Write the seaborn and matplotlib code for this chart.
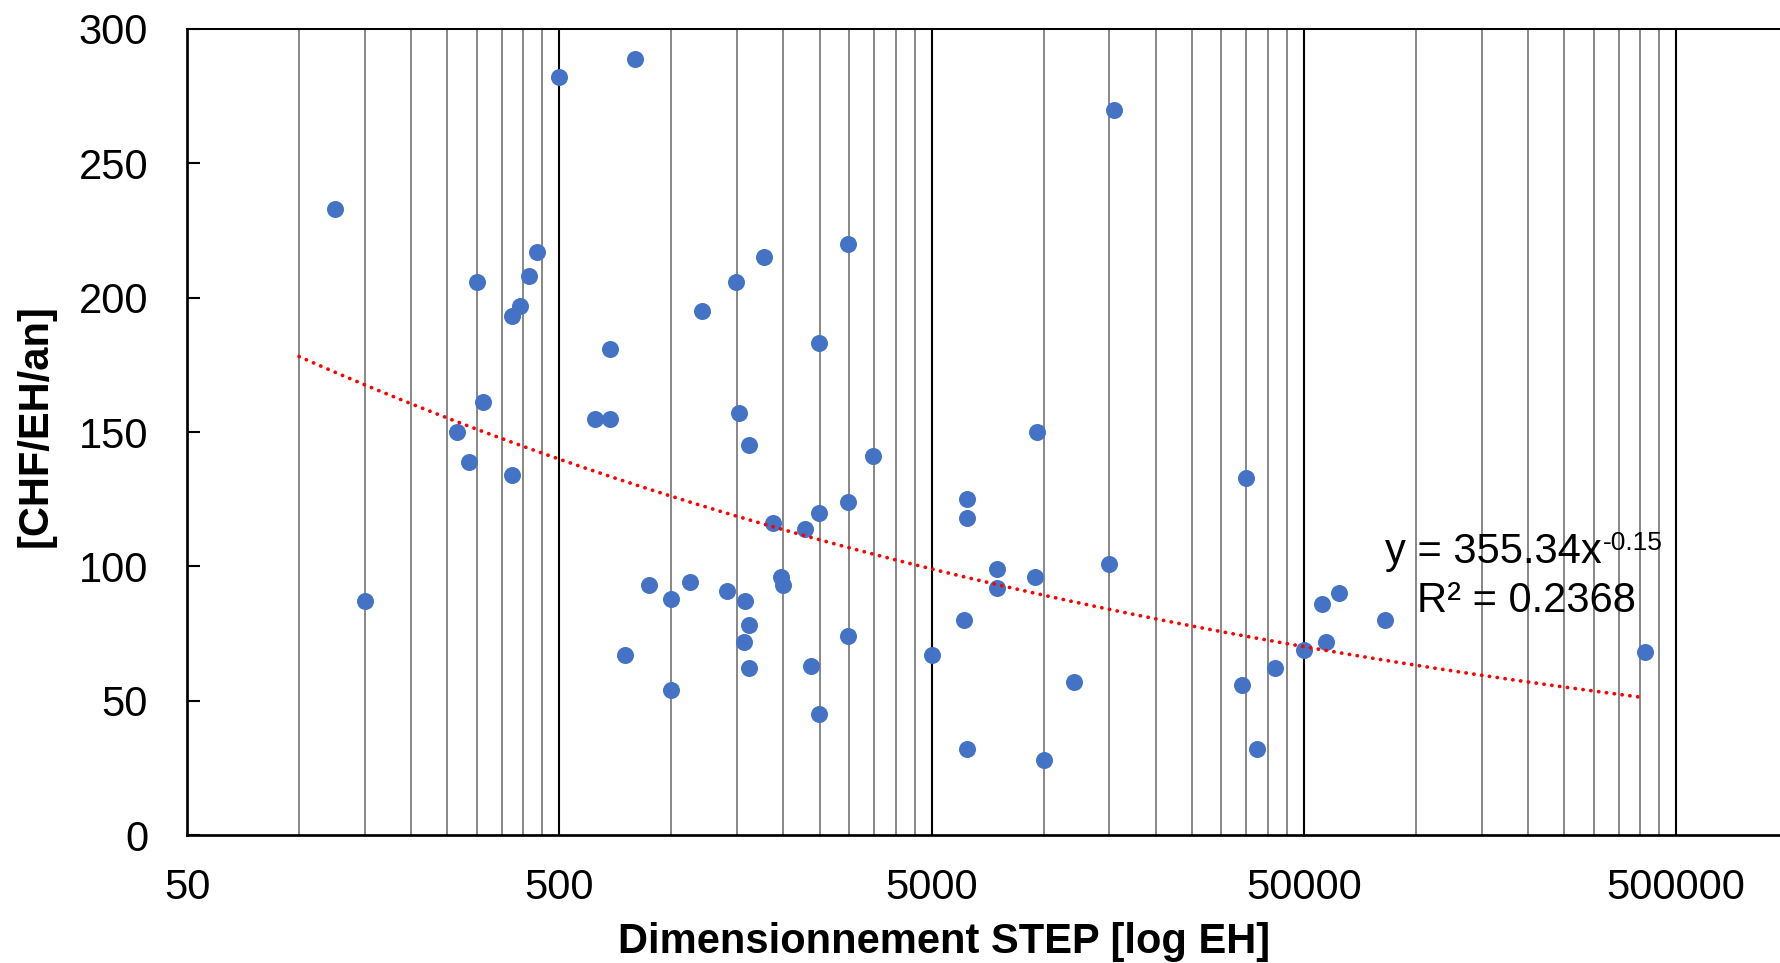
import numpy as np
import pandas as pd
import matplotlib
matplotlib.use("Agg")
import matplotlib.pyplot as plt
import seaborn as sns
from matplotlib.ticker import FixedLocator, FixedFormatter, NullFormatter

# ---- data ----
x_eh = [125, 150, 266, 286, 300, 311, 374, 374, 392, 415, 436, 500,
        622, 686, 686, 749, 797, 870, 998, 998, 1120, 1206, 1413, 1494,
        1519, 1567, 1580, 1616, 1616, 1616, 1770, 1871, 1970, 2000, 2290,
        2367, 2492, 2492, 2492, 2987, 2987, 2987, 3486, 5000, 6108, 6236,
        6236, 6236, 7479, 7479, 9460, 9594, 10000, 12040, 14950, 15480,
        34100, 34900, 37300, 41800, 50000, 56000, 57300, 62000, 82700, 411500]
y_cost = [233, 87, 150, 139, 206, 161, 193, 134, 197, 208, 217, 282,
          155, 181, 155, 67, 289, 93, 88, 54, 94, 195, 91, 206,
          157, 72, 87, 145, 78, 62, 215, 116, 96, 93, 114,
          63, 183, 120, 45, 220, 124, 74, 141, 67, 80, 125,
          118, 32, 99, 92, 96, 150, 28, 57, 101, 270,
          56, 133, 32, 62, 69, 86, 72, 90, 80, 68]

trend_coef = 355.34
trend_exp = -0.15
trend_x_start = 100
r2_value = 0.2368

x_ticks = [50, 500, 5000, 50000, 500000]
x_tick_labels = ["50", "500", "5000", "50000", "500000"]
y_ticks = [0, 50, 100, 150, 200, 250, 300]
x_label = "Dimensionnement STEP [log EH]"
y_label = "[CHF/EH/an]"

# ---- style ----
sns.set_theme(style="white")
plt.rcParams["font.family"] = ["Liberation Sans", "DejaVu Sans"]

W, H = 1781, 963
fig = plt.figure(figsize=(W / 100, H / 100), dpi=100)
left_px, bottom_px = 187, 128
decade_px = 372.3
ax = fig.add_axes([left_px / W, bottom_px / H, 5 * decade_px / W, 806 / H])

df = pd.DataFrame({"eh": x_eh, "cost": y_cost})
sns.scatterplot(data=df, x="eh", y="cost", color="#4472C4", s=150,
                linewidth=0, ax=ax, zorder=3)

# power trendline
xs = np.logspace(np.log10(trend_x_start), np.log10(max(x_eh)), 300)
ys = trend_coef * xs ** trend_exp
ax.plot(xs, ys, color="#FF0000", linewidth=2.7, linestyle=(0, (0.05, 2.05)),
        dash_capstyle="round", zorder=4)

ax.set_xscale("log")
ax.set_xlim(50, 5e6)
ax.set_ylim(0, 300)

minor = [m * t for t in [50, 500, 5000, 50000, 500000] for m in range(2, 10)]
ax.xaxis.set_major_locator(FixedLocator(x_ticks))
ax.xaxis.set_major_formatter(FixedFormatter(x_tick_labels))
ax.xaxis.set_minor_locator(FixedLocator(minor))
ax.xaxis.set_minor_formatter(NullFormatter())
ax.yaxis.set_major_locator(FixedLocator(y_ticks))

ax.grid(False)
ax.grid(True, which="major", axis="x", color="black", linewidth=1.5)
ax.grid(True, which="minor", axis="x", color="#878787", linewidth=1.4)
ax.set_axisbelow(True)

ax.tick_params(axis="x", which="both", length=0, pad=24, labelsize=30,
               labelcolor="black")
ax.tick_params(axis="y", which="major", left=True, direction="in",
               length=9.5, width=1.5, pad=28, labelsize=30,
               color="black", labelcolor="black")

for side in ["left", "bottom"]:
    ax.spines[side].set_color("black")
    ax.spines[side].set_linewidth(1.95)
ax.spines["top"].set_color("black")
ax.spines["top"].set_linewidth(1.45)
ax.spines["right"].set_visible(False)

ax.set_xlabel(x_label, fontsize=30, fontweight="bold", color="black")
ax.set_ylabel(y_label, fontsize=30, fontweight="bold", color="black")
ax.xaxis.set_label_coords(0.4067, -0.108)
ax.yaxis.set_label_coords(-0.0704, 0.5074)

# equation text
t1 = ax.text(0.6436, 0.3375, f"y = {trend_coef:.2f}x", transform=ax.transAxes,
             fontsize=30, ha="left", va="baseline", color="black", zorder=5)
ax.annotate(f"{trend_exp:.2f}".replace("\u2212", "-"), xy=(1, 0), xycoords=t1,
            xytext=(0.5, 16), textcoords="offset points",
            fontsize=19, ha="left", va="baseline", color="black")
ax.text(0.6608, 0.2767, f"R\u00b2 = {r2_value:.4f}", transform=ax.transAxes,
        fontsize=30, ha="left", va="baseline", color="black", zorder=5)

fig.savefig("out.png", dpi=100)
